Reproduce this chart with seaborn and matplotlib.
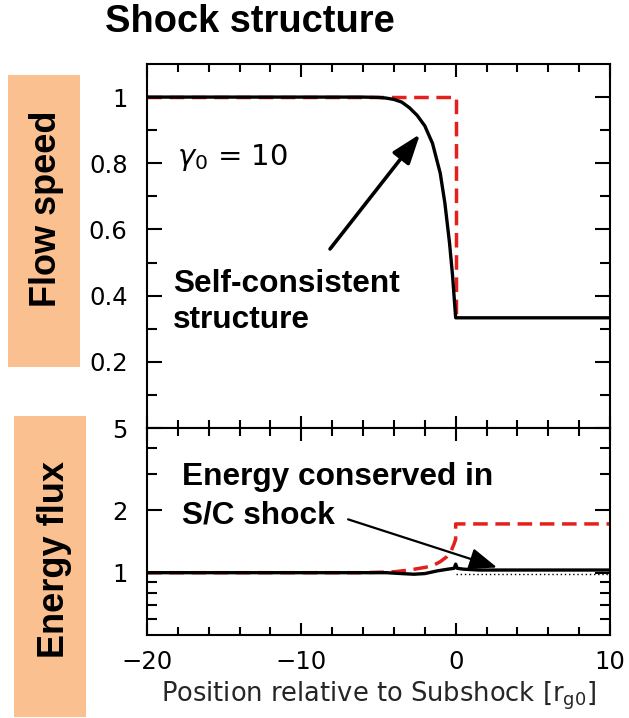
import numpy as np
import pandas as pd
import matplotlib
matplotlib.use("Agg")
import matplotlib.pyplot as plt
import seaborn as sns
from matplotlib.patches import Rectangle
from matplotlib.ticker import FixedLocator, FixedFormatter, NullFormatter

# ---------------- data ----------------
# Top panel: flow speed
speed_x_sc = [-20, -6, -5, -4.5, -4, -3.5, -3, -2.5, -2, -1.5, -1, -0.7, -0.4, -0.2, 0, 10]
speed_y_sc = [1.0, 1.0, 0.999, 0.997, 0.993, 0.985, 0.968, 0.945, 0.913, 0.86, 0.77, 0.68, 0.56, 0.46, 0.333, 0.333]
speed_x_rh = [-20, 0, 0]
speed_y_rh = [1.0, 1.0, 0.333]

# Bottom panel: energy flux
flux_x_rh = [-20, -6, -4, -3, -2, -1.5, -1, -0.6, -0.3, -0.1, 0, 0, 10]
flux_y_rh = [1.0, 1.0, 1.01, 1.03, 1.06, 1.08, 1.13, 1.19, 1.27, 1.38, 1.45, 1.72, 1.72]
flux_x_sc = [-20, -4.5, -3.5, -2.7, -2, -1.2, -0.5, -0.1, 0, 0.1, 0.5, 1.5, 10]
flux_y_sc = [1.0, 1.0, 0.99, 0.983, 0.99, 1.02, 1.04, 1.05, 1.1, 1.05, 1.04, 1.03, 1.03]
flux_x_dot = [0, 10]
flux_y_dot = [0.99, 0.99]

x_major = [-20, -10, 0, 10]
x_labels = ["\u221220", "\u221210", "0", "10"]
speed_ticks = [0.2, 0.4, 0.6, 0.8, 1.0]
speed_labels = ["0.2", "0.4", "0.6", "0.8", "1"]
flux_ticks = [1, 2, 5]
flux_labels = ["1", "2", "5"]

# ---------------- style ----------------
sns.set_theme(style="ticks")
plt.rcParams['font.family'] = ['DejaVu Sans']
plt.rcParams['mathtext.fontset'] = 'dejavusans'
plt.rcParams['axes.edgecolor'] = 'black'
plt.rcParams['xtick.color'] = 'black'
plt.rcParams['ytick.color'] = 'black'

RED = '#E3201B'
W, H = 629, 718
fig = plt.figure(figsize=(W / 100, H / 100), dpi=100)


def fx(px):
    return px / W


def fy(py):
    return 1 - py / H


L, R = 147, 610
ax1 = fig.add_axes([fx(L), fy(428), fx(R) - fx(L), fy(64) - fy(428)])
ax2 = fig.add_axes([fx(L), fy(635), fx(R) - fx(L), fy(428) - fy(635)], sharex=ax1)

# orange label boxes
fig.patches.append(Rectangle((fx(8), fy(367)), fx(80) - fx(8), fy(75) - fy(367),
                             transform=fig.transFigure, facecolor='#FAC090',
                             edgecolor='none', zorder=0))
fig.patches.append(Rectangle((fx(14), fy(717)), fx(86) - fx(14), fy(416) - fy(717),
                             transform=fig.transFigure, facecolor='#FAC090',
                             edgecolor='none', zorder=0))

dash = (0, (4.2, 2.2))
# top panel
sns.lineplot(x=speed_x_rh, y=speed_y_rh, ax=ax1, color=RED, lw=2.5, linestyle=dash,
             sort=False, estimator=None)
sns.lineplot(x=speed_x_sc, y=speed_y_sc, ax=ax1, color='black', lw=2.4,
             sort=False, estimator=None)
# bottom panel
sns.lineplot(x=flux_x_dot, y=flux_y_dot, ax=ax2, color='black', lw=1.0, linestyle=(0, (1, 2)),
             sort=False, estimator=None)
sns.lineplot(x=flux_x_rh, y=flux_y_rh, ax=ax2, color=RED, lw=2.5, linestyle=dash,
             sort=False, estimator=None)
sns.lineplot(x=flux_x_sc, y=flux_y_sc, ax=ax2, color='black', lw=2.4,
             sort=False, estimator=None)

# axes setup
ax1.set_xlim(-20, 10)
ax1.set_ylim(0, 1.1)
ax2.set_yscale('log')
ax2.set_ylim(0.5, 5)

for ax in (ax1, ax2):
    ax.xaxis.set_major_locator(FixedLocator(x_major))
    ax.xaxis.set_minor_locator(FixedLocator([v for v in range(-20, 11, 2) if v % 10 != 0]))
    ax.tick_params(which='both', direction='in', top=True, right=True, width=1.5,
                   colors='black')
    ax.tick_params(axis='x', which='major', length=9)
    ax.tick_params(axis='x', which='minor', length=6)
    ax.tick_params(axis='y', which='major', length=11, pad=14, labelsize=17.5)
    ax.tick_params(axis='y', which='minor', length=7)
    for s in ax.spines.values():
        s.set_linewidth(1.5)
        s.set_color('black')
    ax.set_ylabel('')

ax1.yaxis.set_major_locator(FixedLocator(speed_ticks))
ax1.yaxis.set_major_formatter(FixedFormatter(speed_labels))
ax1.yaxis.set_minor_locator(FixedLocator([0.1, 0.3, 0.5, 0.7, 0.9]))
ax1.tick_params(axis='x', labelbottom=False)

ax2.yaxis.set_major_locator(FixedLocator(flux_ticks))
ax2.yaxis.set_major_formatter(FixedFormatter(flux_labels))
ax2.yaxis.set_minor_locator(FixedLocator([0.6, 0.7, 0.8, 0.9, 3, 4]))
ax2.yaxis.set_minor_formatter(NullFormatter())
ax2.xaxis.set_major_formatter(FixedFormatter(x_labels))
ax2.tick_params(axis='x', which='major', pad=11, labelsize=17.5)
ax2.set_xlabel("Position relative to Subshock [r$_{\\rm g0}$]", fontsize=18.5, labelpad=4)

# arrows
ax1.annotate('', xy=(-2.31, 0.888), xytext=(-8.14, 0.541),
             arrowprops=dict(arrowstyle='-|>,head_length=0.9,head_width=0.32',
                             lw=2.6, color='black', mutation_scale=20,
                             shrinkA=0, shrinkB=0))
ax2.annotate('', xy=(2.68, 1.06), xytext=(-6.97, 1.81),
             arrowprops=dict(arrowstyle='-|>,head_length=0.9,head_width=0.35',
                             lw=1.6, color='black', mutation_scale=19,
                             shrinkA=0, shrinkB=0))

# texts
BOLD = dict(family=['Liberation Sans', 'DejaVu Sans'], weight='bold', color='black')
fig.text(fx(105), fy(32), "Shock structure", fontsize=27.4, ha='left', va='baseline', **BOLD)
fig.text(fx(47), fy(209), "Flow speed", fontsize=26, rotation=90, ha='center', va='center', **BOLD)
fig.text(fx(54), fy(560), "Energy flux", fontsize=26, rotation=90, ha='center', va='center', **BOLD)
fig.text(fx(173), fy(292), "Self-consistent", fontsize=22.8, ha='left', va='baseline', **BOLD)
fig.text(fx(173), fy(328), "structure", fontsize=22.8, ha='left', va='baseline', **BOLD)
fig.text(fx(182), fy(485), "Energy conserved in", fontsize=22.8, ha='left', va='baseline', **BOLD)
fig.text(fx(182), fy(523), "S/C shock", fontsize=22.8, ha='left', va='baseline', **BOLD)
fig.text(fx(177), fy(165), r"$\gamma_0$ = 10", fontsize=21, ha='left', va='baseline',
         family='DejaVu Sans', color='black')

fig.savefig("out.png", dpi=100, facecolor='white')
